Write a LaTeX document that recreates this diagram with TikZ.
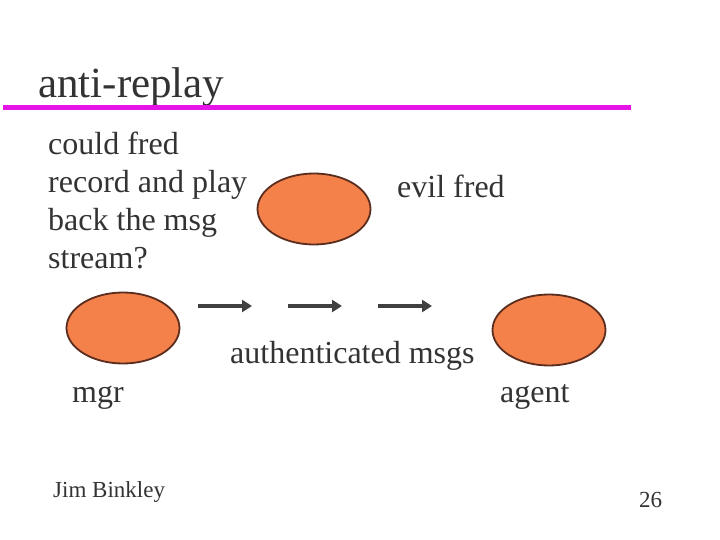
\documentclass[tikz,border=0pt]{standalone}
\usepackage{fontspec}
\setmainfont{Liberation Serif}
\usetikzlibrary{shapes.geometric,arrows.meta}

\definecolor{txtgray}{RGB}{51,51,51}
\definecolor{rulemagenta}{RGB}{230,20,230}
\definecolor{blobfill}{RGB}{244,128,74}
\definecolor{blobline}{RGB}{90,45,30}
\definecolor{arrowgray}{RGB}{64,64,64}

\begin{document}
\begin{tikzpicture}[x=1pt,y=-1pt
        , every node/.style={inner sep=0pt, text=txtgray}
        , body/.style={anchor=base west, font=\fontsize{32}{38}\selectfont}
        , blob/.style={draw=blobline, fill=blobfill, ellipse, line width=1.8pt
            , minimum width=113pt, minimum height=71pt}
        , msg/.style={draw=arrowgray, line width=3.5pt
            , -{Triangle[length=10pt,width=12pt]}}
        ]
        \useasboundingbox[fill=white] (0,0) rectangle (720,540);

        \node (title) [anchor=base west, font=\fontsize{43}{50}\selectfont] at (38,98) {anti-replay};
        \draw[rulemagenta, line width=5pt] (3,108) -- (631,108);

        \node (question) [anchor=north west, align=left, font=\fontsize{32}{38}\selectfont] at (48,132)
            {could fred\\record and play\\back the msg\\stream?};

        \node[blob] (fred) at (314,209) {};
        \node (fredlabel) [body] at (397,197) {evil fred};

        \node[blob] (mgr) at (123,328) {};
        \node (mgrlabel) [body] at (72,402) {mgr};

        \node[blob] (agent) at (549,330) {};
        \node (agentlabel) [body] at (500,402) {agent};

        \coordinate (m1a) at (198,306);
        \coordinate (m1b) at (252,306);
        \coordinate (m2a) at (288,306);
        \coordinate (m2b) at (342,306);
        \coordinate (m3a) at (378,306);
        \coordinate (m3b) at (432,306);
        \draw[msg] (m1a) -- (m1b);
        \draw[msg] (m2a) -- (m2b);
        \draw[msg] (m3a) -- (m3b);
        \node (msgs) [body] at (230,363) {authenticated msgs};

        \node (author) [anchor=base west, font=\fontsize{23}{28}\selectfont] at (53,497) {Jim Binkley};
        \node (page) [anchor=base west, font=\fontsize{23}{28}\selectfont] at (639,507) {26};

    \end{tikzpicture}
\end{document}
